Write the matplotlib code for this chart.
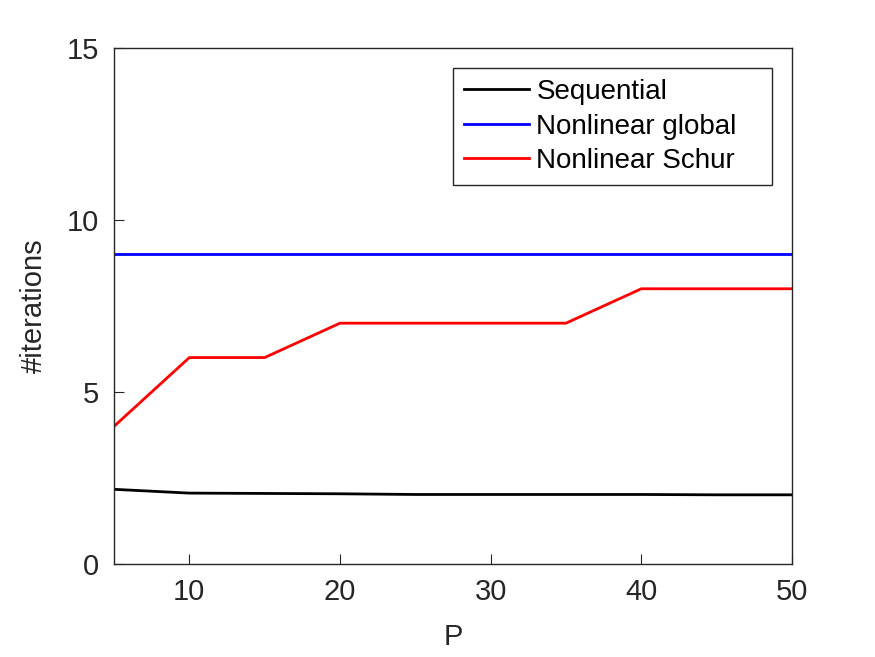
import matplotlib.pyplot as plt

plt.rcParams['font.family'] = ['Liberation Sans', 'DejaVu Sans']

P = [5, 10, 15, 20, 25, 30, 35, 40, 45, 50]
sequential = [2.17, 2.06, 2.05, 2.04, 2.02, 2.02, 2.02, 2.02, 2.01, 2.01]
nonlinear_global = [9, 9, 9, 9, 9, 9, 9, 9, 9, 9]
nonlinear_schur = [4, 6, 6, 7, 7, 7, 7, 8, 8, 8]


def main():
    fig = plt.figure(figsize=(8.75, 6.57), dpi=100)
    ax = fig.add_axes([0.1303, 0.1416, 0.7748, 0.7854])

    ax.plot(P, sequential, color='black', lw=2, label='Sequential')
    ax.plot(P, nonlinear_global, color='blue', lw=2, label='Nonlinear global')
    ax.plot(P, nonlinear_schur, color='red', lw=2, label='Nonlinear Schur')

    ax.set_xlim(5, 50)
    ax.set_ylim(0, 15)
    ax.set_xticks([10, 20, 30, 40, 50])
    ax.set_yticks([0, 5, 10, 15])
    ax.tick_params(direction='in', labelsize=21, colors='#262626', length=7,
                   top=False, right=False)
    ax.tick_params(axis='y', pad=11)
    ax.tick_params(axis='x', pad=10)
    for s in ax.spines.values():
        s.set_color('#262626')
        s.set_linewidth(1.0)

    ax.set_xlabel('P', fontsize=21, color='#262626', labelpad=12)
    ax.set_ylabel('#iterations', fontsize=21, color='#262626', labelpad=13)

    leg = ax.legend(loc='upper left', bbox_to_anchor=(0.5, 0.5, 0.4705, 0.461),
                    mode='expand', borderaxespad=0, fontsize=20, fancybox=False,
                    edgecolor='#262626', framealpha=1,
                    handlelength=2.35, handletextpad=0.25, labelspacing=0.3,
                    borderpad=0.4)
    leg.get_frame().set_linewidth(1.0)

    fig.savefig('out.png')


if __name__ == "__main__":
    main()
